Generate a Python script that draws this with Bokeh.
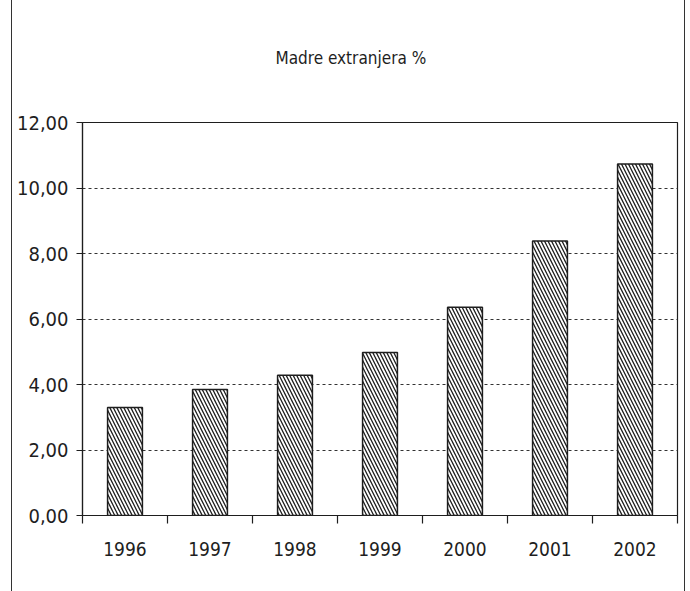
from bokeh.plotting import figure
from bokeh.models import Range1d, FixedTicker, Title
from bokeh.embed import file_html
from bokeh.resources import INLINE

years = ["1996", "1997", "1998", "1999", "2000", "2001", "2002"]
values = [3.30, 3.85, 4.28, 4.98, 6.36, 8.38, 10.73]
y_ticks = [0, 2, 4, 6, 8, 10, 12]
y_tick_labels = ["0,00", "2,00", "4,00", "6,00", "8,00", "10,00", "12,00"]
title_text = "Madre extranjera %"

FONT = "DejaVu Sans Condensed, Liberation Sans"
INK = "#1e1e1e"

xs = [i + 0.5 for i in range(len(years))]

p = figure(width=674, height=591, output_backend="svg", toolbar_location=None,
           x_range=Range1d(0, len(years)), y_range=Range1d(0, 12),
           min_border_left=70, min_border_right=9, min_border_top=122,
           min_border_bottom=76, tools="", title=None)
p.styles = {"margin-left": "11px", "border-left": "1px solid #333",
            "border-right": "1px solid #333"}

p.vbar(x=xs, top=values, width=0.41, bottom=0,
       fill_color="white", line_color=INK, line_width=1.5,
       hatch_pattern="\\", hatch_color=INK, hatch_scale=7, hatch_weight=1.3)

# spacer title, then the real title (with a blank second line to lift it)
p.add_layout(Title(text=" ", text_font_size="30px", standoff=0), "above")
p.add_layout(Title(text=title_text + "\n\u00a0", align="left", offset=193, standoff=0,
                   text_font=FONT, text_font_size="17px",
                   text_font_style="normal", text_color=INK), "above")

# frame
p.outline_line_color = INK
p.outline_line_width = 1.2
p.background_fill_color = "white"
p.border_fill_color = "white"

# x axis
xa = p.xaxis[0]
xa.ticker = FixedTicker(ticks=xs, minor_ticks=list(range(len(years) + 1)))
xa.major_label_overrides = {x: y for x, y in zip(xs, years)}
xa.major_tick_out = 0
xa.major_tick_in = 0
xa.minor_tick_out = 8
xa.minor_tick_in = 0
xa.minor_tick_line_color = INK
xa.minor_tick_line_width = 1.2
xa.axis_line_color = INK
xa.axis_line_width = 1.2
xa.major_label_standoff = 18
xa.major_label_text_font = FONT
xa.major_label_text_font_size = "19px"
xa.major_label_text_color = INK

# y axis
ya = p.yaxis[0]
ya.ticker = FixedTicker(ticks=y_ticks)
ya.major_label_overrides = {t: l for t, l in zip(y_ticks, y_tick_labels)}
ya.major_tick_out = 6
ya.major_tick_in = 0
ya.minor_tick_line_color = None
ya.major_tick_line_color = INK
ya.axis_line_color = INK
ya.axis_line_width = 1.2
ya.major_label_standoff = 8
ya.major_label_text_font = FONT
ya.major_label_text_font_size = "20px"
ya.major_label_text_color = INK

# grid
p.xgrid.grid_line_color = None
p.ygrid.ticker = FixedTicker(ticks=y_ticks[1:-1])
p.ygrid.grid_line_color = "#333333"
p.ygrid.grid_line_dash = "3 3"
p.ygrid.grid_line_width = 1

open("out.html", "w").write(file_html(p, INLINE))
